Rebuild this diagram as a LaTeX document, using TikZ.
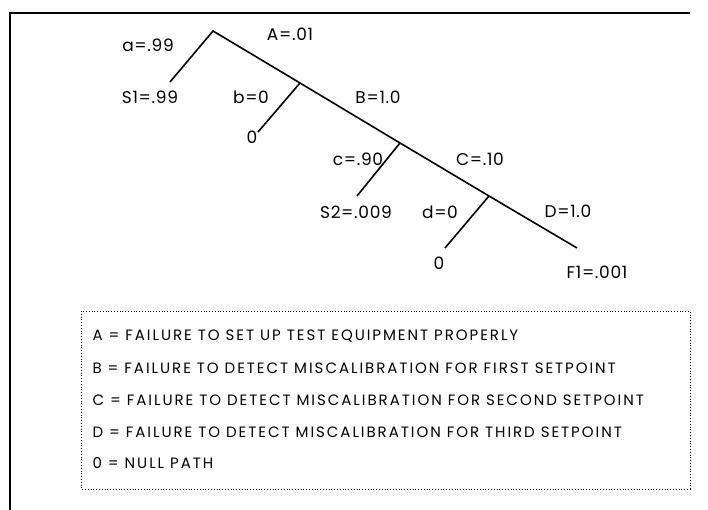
\documentclass[tikz,border=0pt]{standalone}
\usepackage{fontspec}
\setmainfont{Poppins}
\newfontfamily\probfont[LetterSpace=4]{Poppins}
\newfontfamily\keyfont[LetterSpace=13]{Poppins}
\usetikzlibrary{positioning}

\begin{document}
\begin{tikzpicture}[x=1pt,y=-1pt,
    branch/.style={line width=1.6pt},
    prob/.style={font=\probfont\fontsize{17}{19}\selectfont},
    keyline/.style={font=\keyfont\fontsize{15}{17}\selectfont,anchor=west}]
  \useasboundingbox (0,0) rectangle (708,510);
  % frame
  \draw[line width=1.8pt] (10,510) -- (10,13) -- (690,13);
  % tree points
  \coordinate (root) at (213,31);
  \coordinate (n1) at (300,83);
  \coordinate (n2) at (400,143);
  \coordinate (n3) at (489,196);
  \coordinate (s1) at (170,82);
  \coordinate (z1) at (258,132);
  \coordinate (s2) at (357,196);
  \coordinate (z2) at (445,248);
  \coordinate (f1) at (577,248);
  \draw[branch] (s1) -- (root) -- (n1) -- (n2) -- (n3) -- (f1);
  \draw[branch] (n1) -- (z1);
  \draw[branch] (n2) -- (s2);
  \draw[branch] (n3) -- (z2);
  % probabilities
  \node[prob] (la) at (148,45) {a=.99};
  \node[prob] (lA) at (290,34) {A=.01};
  \node[prob] (lS1) at (150,97) {S1=.99};
  \node[prob] (lb) at (251,97) {b=0};
  \node[prob] (lz1) at (252,137) {0};
  \node[prob] (lB) at (378,97) {B=1.0};
  \node[prob] (lc) at (358,159) {c=.90};
  \node[prob] (lC) at (480,159) {C=.10};
  \node[prob] (lS2) at (356,212) {S2=.009};
  \node[prob] (ld) at (440,212) {d=0};
  \node[prob] (lD) at (568,211) {D=1.0};
  \node[prob] (lz2) at (439,263) {0};
  \node[prob] (lF1) at (597,272) {F1=.001};
  % key
  \draw[line width=1pt,dash pattern=on 1pt off 1.8pt] (81,311) rectangle (690,489);
  \node[keyline] (kA) at (89,336) {A = FAILURE TO SET UP TEST EQUIPMENT PROPERLY};
  \node[keyline] (kB) at (89,368) {B = FAILURE TO DETECT MISCALIBRATION FOR FIRST SETPOINT};
  \node[keyline] (kC) at (89,400) {C = FAILURE TO DETECT MISCALIBRATION FOR SECOND SETPOINT};
  \node[keyline] (kD) at (89,432) {D = FAILURE TO DETECT MISCALIBRATION FOR THIRD SETPOINT};
  \node[keyline] (k0) at (89,463) {0 = NULL PATH};
\end{tikzpicture}
\end{document}
